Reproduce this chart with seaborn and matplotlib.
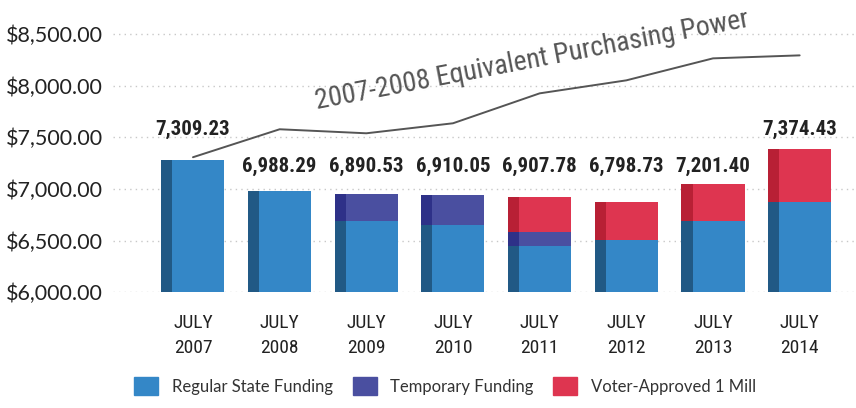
import matplotlib
matplotlib.use("Agg")
import matplotlib.pyplot as plt
import numpy as np
import pandas as pd
import seaborn as sns
from matplotlib.patches import Patch

years = ["JULY\n2007", "JULY\n2008", "JULY\n2009", "JULY\n2010",
         "JULY\n2011", "JULY\n2012", "JULY\n2013", "JULY\n2014"]
regular = [7278, 6977, 6687, 6648, 6445, 6503, 6687, 6871]
temporary = [0, 0, 262, 291, 136, 0, 0, 0]
voter = [0, 0, 0, 0, 339, 368, 358, 513]
total_labels = ["7,309.23", "6,988.29", "6,890.53", "6,910.05",
                "6,907.78", "6,798.73", "7,201.40", "7,374.43"]
purchasing_power = [7307, 7578, 7539, 7636, 7926, 8052, 8265, 8294]
yticks = [6000, 6500, 7000, 7500, 8000, 8500]

FACE = {"Regular State Funding": "#3487C7",
        "Temporary Funding": "#4A4FA0",
        "Voter-Approved 1 Mill": "#DE3550"}
SIDE = {"Regular State Funding": "#215985",
        "Temporary Funding": "#2E3188",
        "Voter-Approved 1 Mill": "#B82035"}

NARROW = ["Roboto Condensed", "DejaVu Sans Condensed", "Liberation Sans Narrow",
          "Roboto", "DejaVu Sans"]

sns.set_theme(style="white")
plt.rcParams["font.family"] = ["Lato", "DejaVu Sans"]

df = pd.DataFrame({"year": years, "regular": regular,
                   "temporary": temporary, "voter": voter})
df["top_regular"] = df["regular"]
df["top_temp"] = df["regular"] + df["temporary"]
df["top_voter"] = df["top_temp"] + df["voter"]

fig = plt.figure(figsize=(8.56, 4.08), dpi=100)
ax = fig.add_axes([0.132, 0.284, 0.868, 0.683])

x = np.arange(len(years))
full_w = 0.727
side_w = 0.127
face_w = full_w - side_w

layers = [("top_voter", "Voter-Approved 1 Mill"),
          ("top_temp", "Temporary Funding"),
          ("top_regular", "Regular State Funding")]
for col, name in layers:
    # whole bar in the darker side colour, then the front face over it
    sns.barplot(data=df, x="year", y=col, color=SIDE[name], width=full_w,
                saturation=1, linewidth=0, ax=ax, zorder=3)
    ax.bar(x + side_w / 2, df[col], width=face_w, color=FACE[name],
           zorder=4, linewidth=0)

ax.plot(x, purchasing_power, color="#555555", lw=1.4, zorder=5)
ax.text(1.43, 7771, "2007-2008 Equivalent Purchasing Power", rotation=10.8,
        rotation_mode="anchor", ha="left", va="baseline", fontsize=20,
        color="#555555", family=NARROW, zorder=6)

# totals sit on a shared baseline, raised for the two tallest bars
for i, lab in enumerate(total_labels):
    top = df["top_voter"].iloc[i]
    y_lab = 7520 if top > 7200 else 7165
    ax.text(i, y_lab, lab, ha="center", va="baseline", fontsize=15,
            fontweight="bold", family=NARROW, color="#222222", zorder=6)

ax.set_ylim(6000, 8700)
ax.set_xlim(-0.923, 7.65)
ax.set_yticks(yticks)
ax.set_yticklabels([f"${v:,.2f}" for v in yticks], fontsize=15.5, color="#222222")
ax.set_xticks(x)
ax.set_xticklabels(years, fontsize=14, color="#222222", linespacing=1.45,
                   family=NARROW)
ax.tick_params(axis="y", length=0, pad=7)
ax.tick_params(axis="x", length=0, pad=16)
ax.set_xlabel("")
ax.set_ylabel("")
for y in yticks:
    ax.axhline(y, color="#c8c8c8", lw=1, ls=(0, (1, 3)), zorder=1)
for s in ax.spines.values():
    s.set_visible(False)

handles = [Patch(color=c, label=n) for n, c in FACE.items()]
fig.legend(handles=handles, loc="lower center", bbox_to_anchor=(0.52, -0.005),
           ncol=3, frameon=False, fontsize=12, handlelength=1.44,
           handleheight=1.3, handletextpad=0.8, columnspacing=1.2,
           labelcolor="#333333")

fig.savefig("out.png", dpi=100)
